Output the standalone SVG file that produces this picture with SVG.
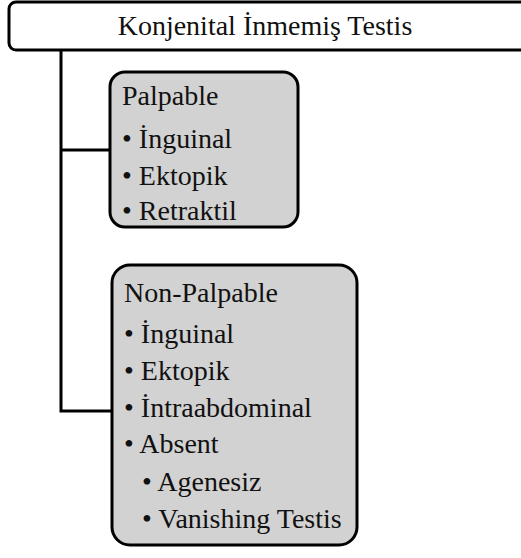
<svg xmlns="http://www.w3.org/2000/svg" width="521" height="558" viewBox="0 0 521 558">
<style>
.t{font-family:'Liberation Serif','Times New Roman',serif;font-size:28px;fill:#111}
.box{fill:#d2d2d2;stroke:#000;stroke-width:3}
.conn{fill:none;stroke:#000;stroke-width:3}
</style>
<rect width="521" height="558" fill="#fff"/>
<g id="root">
<rect x="9" y="2" width="530" height="48" rx="7" fill="#fff" stroke="#000" stroke-width="3"/>
<text class="t" x="265" y="35" text-anchor="middle">Konjenital İnmemiş Testis</text>
</g>
<g id="connectors">
<path class="conn" d="M61 50 V411 H112"/>
<path class="conn" d="M61 150 H110"/>
</g>
<g id="palpable">
<rect class="box" x="110" y="72" width="188" height="155" rx="15"/>
<text class="t" x="122" y="105">Palpable</text>
<text class="t" x="122" y="148">• İnguinal</text>
<text class="t" x="122" y="185">• Ektopik</text>
<text class="t" x="122" y="220">• Retraktil</text>
</g>
<g id="nonpalpable">
<rect class="box" x="112" y="265" width="245" height="280" rx="18"/>
<text class="t" x="124" y="302">Non-Palpable</text>
<text class="t" x="124" y="343">• İnguinal</text>
<text class="t" x="124" y="380">• Ektopik</text>
<text class="t" x="124" y="417">• İntraabdominal</text>
<text class="t" x="124" y="453">• Absent</text>
<text class="t" x="142" y="491">• Agenesiz</text>
<text class="t" x="142" y="528">• Vanishing Testis</text>
</g>
</svg>
